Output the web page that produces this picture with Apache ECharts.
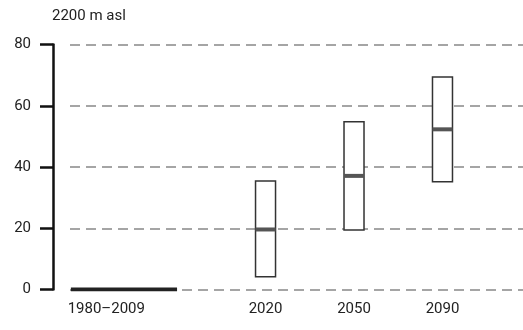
<!DOCTYPE html>
<html>
<head>
<meta charset="utf-8">
<script src="https://cdn.jsdelivr.net/npm/echarts@6/dist/echarts.min.js"></script>
<style>
  html, body { margin: 0; padding: 0; background: #fff; }
  #chart { width: 523px; height: 330px; }
</style>
</head>
<body>
<div id="chart"></div>
<script>
// Period labels and their slot on the horizontal axis
const periods = ['1980–2009', '2020', '2050', '2090'];
const periodSlots = [0.2, 2, 3, 4];

// Reference period: change is zero over the slot span
const referenceSpan = [-0.2, 1];
const referenceValue = 0;

// Projected change for the future periods: low, median, high
const futurePeriods = ['2020', '2050', '2090'];
const futureSlots = [2, 3, 4];
const lowValues = [4.2, 19.4, 35.2];
const medianValues = [19.6, 37.1, 52.3];
const highValues = [35.4, 54.8, 69.4];

// Vertical axis ticks
const yTicks = [0, 20, 40, 60, 80];

const FONT = "Roboto, sans-serif";

const chart = echarts.init(document.getElementById('chart'), null, { renderer: 'canvas' });

const boxData = futureSlots.map((s, i) => [s, lowValues[i], medianValues[i], highValues[i]]);

chart.setOption({
  animation: false,
  backgroundColor: '#fff',
  title: {
    text: '2200 m asl',
    left: 52,
    top: 9,
    padding: 0,
    textStyle: { fontFamily: FONT, fontSize: 15, fontWeight: 'normal', color: '#222', lineHeight: 15 }
  },
  grid: { left: 70, right: 0, top: 44.5, bottom: 40.5 },
  xAxis: {
    type: 'value',
    min: -0.21,
    max: 4.91,
    axisLine: { show: false },
    axisTick: { show: false },
    splitLine: { show: false },
    axisLabel: {
      customValues: periodSlots,
      margin: 12,
      fontFamily: FONT,
      fontSize: 15,
      color: '#222',
      formatter: v => {
        const i = periodSlots.findIndex(p => Math.abs(p - v) < 1e-6);
        return i >= 0 ? periods[i] : '';
      }
    }
  },
  yAxis: {
    type: 'value',
    min: yTicks[0],
    max: yTicks[yTicks.length - 1],
    interval: 20,
    offset: 17,
    axisLine: { show: true, onZero: false, lineStyle: { color: '#111', width: 2.5 } },
    axisTick: { show: true, length: 13, lineStyle: { color: '#111', width: 2.5 } },
    axisLabel: { margin: 22, fontFamily: FONT, fontSize: 15, color: '#222' },
    splitLine: { show: true, lineStyle: { color: '#888', width: 1.5, type: [10, 6] } }
  },
  series: [
    {
      type: 'line',
      data: [[referenceSpan[0], referenceValue], [referenceSpan[1], referenceValue]],
      symbol: 'none',
      lineStyle: { color: '#222', width: 4 },
      z: 5
    },
    {
      type: 'custom',
      data: boxData,
      encode: { x: 0, y: [1, 2, 3] },
      z: 6,
      renderItem: (params, api) => {
        const x = api.value(0);
        const lo = api.coord([x, api.value(1)]);
        const md = api.coord([x, api.value(2)]);
        const hi = api.coord([x, api.value(3)]);
        const w = 20;
        return {
          type: 'group',
          children: [
            {
              type: 'rect',
              shape: { x: lo[0] - w / 2, y: hi[1], width: w, height: lo[1] - hi[1] },
              style: { fill: '#fff', stroke: '#333', lineWidth: 1.5 }
            },
            {
              type: 'rect',
              shape: { x: md[0] - w / 2, y: md[1] - 2, width: w, height: 4 },
              style: { fill: '#555' }
            }
          ]
        };
      }
    }
  ]
});
</script>
</body>
</html>
